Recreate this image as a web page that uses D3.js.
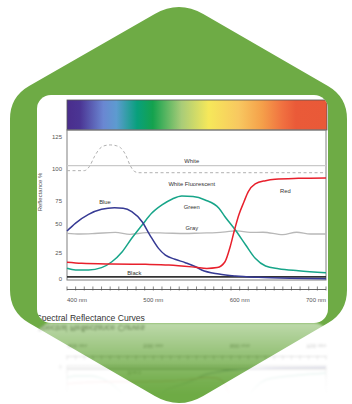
<!DOCTYPE html>
<html><head><meta charset="utf-8">
<script src="https://cdn.jsdelivr.net/npm/d3@7"></script>
<style>html,body{margin:0;padding:0;background:#fff;overflow:hidden;} svg{display:block;}</style>
</head><body>
<script>
// ---------- data ----------
const yTicks = [0, 25, 50, 75, 100, 125];
const xTickValues = [400, 500, 600, 700];
const xTickLabels = ["400 nm", "500 nm", "600 nm", "700 nm"];
const blueSeries = [[400,44],[410,51],[425,60.5],[440,66],[455,67.7],[465,67.2],[475,63.5],[487,52.5],[496,40.5],[506,29],[514,23],[525,19],[537,15.7],[549,11.8],[556,8.7],[576,4.8],[595,2.9],[622,1.6],[660,0.7],[700,0.3]];
const greenSeries = [[400,10.3],[410,8.7],[425,8.7],[440,10.9],[452,16.6],[464,26.1],[475,37.7],[487,49.1],[498,61.6],[510,70.7],[522,76.6],[533,78.9],[546,78.5],[560,75.8],[576,67.1],[583,57.9],[595,44.8],[607,31.9],[618,19.9],[630,12.5],[645,9.9],[668,8.0],[700,6.1]];
const redSeries = [[400,16.1],[417,15.1],[452,14.4],[491,14.1],[518,13.5],[549,11.3],[562,10.2],[574,11.0],[583,16.6],[589,30.4],[594,44.8],[599,59.8],[605,74.2],[610,82.3],[618,88.3],[630,90.9],[641,92],[668,92.7],[700,93]];
const graySeries = [[400,42],[415,41.4],[432,41.8],[456,42.8],[473,41.1],[492,42.5],[514,42.2],[537,41.8],[554,42.2],[573,42.5],[597,44],[612,42.7],[627,42.9],[650,40.8],[666,42.9],[682,41.4],[700,41.4]];
const whiteFluorSeries = [[400,98.7],[420,98.7],[426,102],[432,110],[438,116],[444,118.3],[450,118.8],[457,118.2],[463,116],[468,111],[473,103],[478,98.2],[483,97.1],[700,97.1]];
const whiteSeries = [[400,102.6],[700,102.6]];
const blackSeries = [[400,2],[700,2]];
const seriesNames = ["White","White Fluorescent","Red","Blue","Green","Gray","Black"];
const labelNm = [544.5, 544.5, 653, 444, 544.5, 544.5, 478];
const labelVal = [106.3, 88.3, 82.8, 73.6, 68.2, 46.3, 5.5];
const spectrumColors = ["#4a2d8c","#4b3594","#6a87d2","#5d9bd0","#08a07c","#14a24e","#a8cc78","#f6e85a","#f8c860","#f5a04a","#f07040","#ea5a38","#e95938"];
const spectrumStops = [0,0.05,0.14,0.19,0.27,0.33,0.44,0.545,0.66,0.75,0.83,0.88,1];

// ---------- layout ----------
const W = 352, H = 404;
const svg = d3.select("body").append("svg").attr("width", W).attr("height", H);
const defs = svg.append("defs");

function roundedPoly(pts, radii) {
  let d = "";
  const n = pts.length;
  for (let i = 0; i < n; i++) {
    const P = pts[(i - 1 + n) % n], V = pts[i], N = pts[(i + 1) % n];
    const r = radii[i];
    const lp = Math.hypot(P[0]-V[0], P[1]-V[1]), ln = Math.hypot(N[0]-V[0], N[1]-V[1]);
    const A = [V[0] + (P[0]-V[0]) * r / lp, V[1] + (P[1]-V[1]) * r / lp];
    const B = [V[0] + (N[0]-V[0]) * r / ln, V[1] + (N[1]-V[1]) * r / ln];
    d += (i === 0 ? "M" : "L") + A[0] + "," + A[1] + "Q" + V[0] + "," + V[1] + " " + B[0] + "," + B[1];
  }
  return d + "Z";
}

// hexagon
const hexPts = [[179,0],[347,97],[347,312],[179,410],[10,312],[10,97]];
svg.append("path").attr("d", roundedPoly(hexPts, [28,22,22,28,22,22])).attr("fill", "#6eab45");

// card geometry
const card = {x: 37, y: 95, w: 291, h: 228, r: 14};
defs.append("clipPath").attr("id", "cardClip").append("rect")
  .attr("x", card.x).attr("y", card.y).attr("width", card.w).attr("height", card.h).attr("rx", card.r);

// spectrum gradient
const sg = defs.append("linearGradient").attr("id", "spec").attr("x1", "0").attr("x2", "1").attr("y1", "0").attr("y2", "0");
spectrumStops.forEach((s, i) => sg.append("stop").attr("offset", s).attr("stop-color", spectrumColors[i]));

// reflection fade
const fg = defs.append("linearGradient").attr("id", "fadeGrad").attr("gradientUnits", "userSpaceOnUse")
  .attr("x1", 0).attr("y1", card.y + card.h).attr("x2", 0).attr("y2", 395);
fg.append("stop").attr("offset", 0).attr("stop-color", "#fff").attr("stop-opacity", 0.55);
fg.append("stop").attr("offset", 0.4).attr("stop-color", "#fff").attr("stop-opacity", 0.3);
fg.append("stop").attr("offset", 0.8).attr("stop-color", "#fff").attr("stop-opacity", 0.07);
fg.append("stop").attr("offset", 1).attr("stop-color", "#fff").attr("stop-opacity", 0);
defs.append("mask").attr("id", "fade").attr("maskUnits", "userSpaceOnUse")
  .attr("x", 0).attr("y", 0).attr("width", W).attr("height", H)
  .append("rect").attr("x", 0).attr("y", card.y + card.h).attr("width", W).attr("height", H - card.y - card.h).attr("fill", "url(#fadeGrad)");
defs.append("filter").attr("id", "blur").attr("x", "-5%").attr("y", "-5%").attr("width", "110%").attr("height", "110%")
  .append("feGaussianBlur").attr("stdDeviation", 1.3);

// ---------- card content ----------
const cardG = svg.append("g").attr("id", "card");
cardG.append("rect").attr("x", card.x).attr("y", card.y).attr("width", card.w).attr("height", card.h)
  .attr("rx", card.r).attr("fill", "#fff");
const inner = cardG.append("g").attr("clip-path", "url(#cardClip)");

const x = d3.scaleLinear().domain([400, 700]).range([67, 326]);
const y = d3.scaleLinear().domain(yTicks).range([279, 253, 224, 201, 169, 137]);

// spectrum bar
inner.append("rect").attr("x", x(400)).attr("y", 100).attr("width", x(700) - x(400) + 1).attr("height", 30)
  .attr("fill", "url(#spec)").attr("stroke", "#555").attr("stroke-width", 0.8);

// plot frame
inner.append("rect").attr("x", x(400)).attr("y", 130).attr("width", x(700) - x(400)).attr("height", 150)
  .attr("fill", "none").attr("stroke", "#808080").attr("stroke-width", 1);

// y tick labels
inner.append("g").selectAll("text").data(yTicks).join("text")
  .attr("x", 62).attr("y", d => y(d)).attr("dy", "0.35em").attr("text-anchor", "end")
  .attr("font-family", "Liberation Sans, Arial, sans-serif").attr("font-size", 6).attr("fill", "#555")
  .text(d => d);
inner.append("text").attr("transform", "translate(42,192) rotate(-90)").attr("text-anchor", "middle")
  .attr("font-family", "Liberation Sans, Arial, sans-serif").attr("font-size", 6).attr("fill", "#555")
  .text("Reflectance %");

const line = d3.line().x(d => x(d[0])).y(d => y(d[1])).curve(d3.curveMonotoneX);
const curves = [
  {data: whiteSeries, color: "#c9c9c9", w: 1.4, dash: null},
  {data: whiteFluorSeries, color: "#b0b0b0", w: 1, dash: "3,2.5"},
  {data: graySeries, color: "#b8b8b8", w: 1.3, dash: null},
  {data: blackSeries, color: "#333", w: 1.6, dash: null},
  {data: greenSeries, color: "#17a589", w: 1.5, dash: null},
  {data: blueSeries, color: "#363a94", w: 1.5, dash: null},
  {data: redSeries, color: "#e8202c", w: 1.5, dash: null}
];
inner.append("g").selectAll("path").data(curves).join("path")
  .attr("d", c => line(c.data)).attr("fill", "none").attr("stroke", c => c.color)
  .attr("stroke-width", c => c.w).attr("stroke-dasharray", c => c.dash);

// series labels
inner.append("g").selectAll("text").data(seriesNames).join("text")
  .attr("x", (d, i) => x(labelNm[i])).attr("y", (d, i) => y(labelVal[i])).attr("dy", "0.35em")
  .attr("text-anchor", "middle").attr("font-family", "Liberation Sans, Arial, sans-serif")
  .attr("font-size", 5.8).attr("fill", "#333").text(d => d);

// ruler axis
const ruler = inner.append("g");
ruler.append("line").attr("x1", x(400)).attr("x2", x(700)).attr("y1", 289.5).attr("y2", 289.5)
  .attr("stroke", "#555").attr("stroke-width", 0.9);
ruler.selectAll("line.t").data(d3.range(400, 701, 10)).join("line").attr("class", "t")
  .attr("x1", d => x(d)).attr("x2", d => x(d)).attr("y1", 286.5).attr("y2", 290.5)
  .attr("stroke", "#555").attr("stroke-width", 0.7);
ruler.selectAll("text").data(xTickValues).join("text")
  .attr("x", d => x(d)).attr("y", 299.5).attr("dy", "0.35em")
  .attr("text-anchor", (d, i) => i === 0 ? "start" : (i === xTickValues.length - 1 ? "end" : "middle"))
  .attr("font-family", "Liberation Sans, Arial, sans-serif").attr("font-size", 6).attr("fill", "#555")
  .text((d, i) => xTickLabels[i]);

// title
inner.append("text").attr("x", 36).attr("y", 321).attr("font-family", "Liberation Sans, Arial, sans-serif")
  .attr("font-size", 8.6).attr("fill", "#333").text("Spectral Reflectance Curves");

// ---------- reflection ----------
const mirrorY = card.y + card.h;
svg.append("g").attr("mask", "url(#fade)").append("g").attr("filter", "url(#blur)")
  .append("use").attr("href", "#card").attr("transform", `translate(0,${2 * mirrorY}) scale(1,-1)`);
</script>
</body></html>
